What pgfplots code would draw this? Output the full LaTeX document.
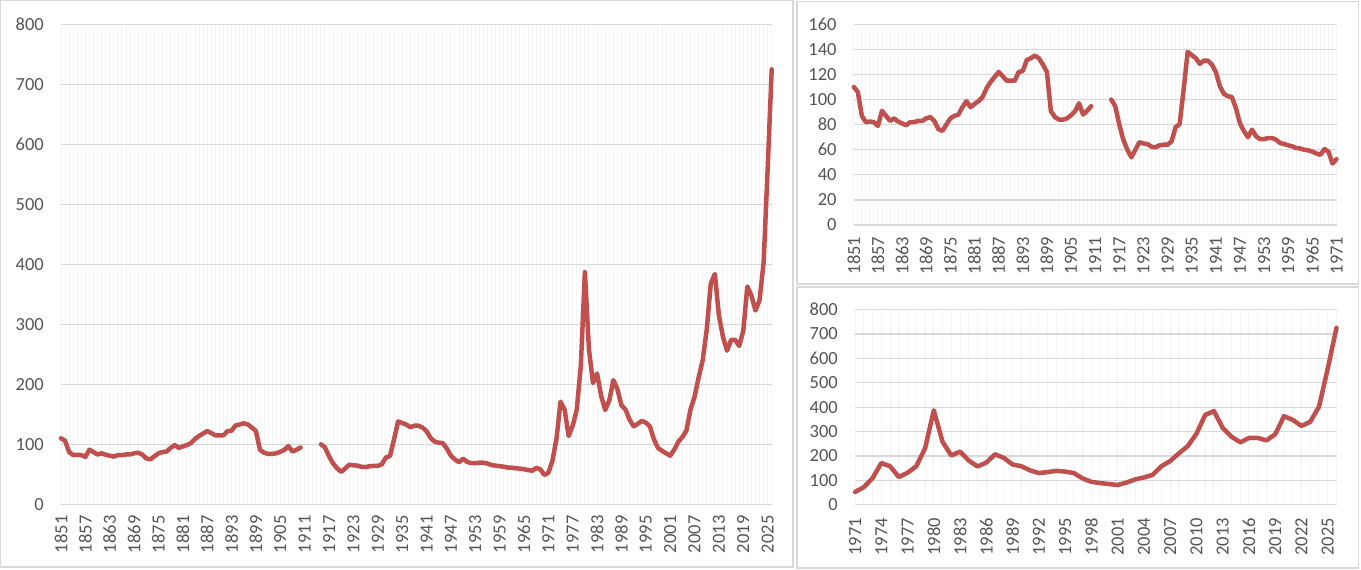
\documentclass[border=0pt]{standalone}
\usepackage{fontspec}
\setmainfont{Carlito}
\usepackage{pgfplots}
\usepackage{pgfplotstable}
\pgfplotsset{compat=1.18}
\definecolor{linec}{RGB}{192,80,77}
\definecolor{gridc}{RGB}{217,217,217}
\definecolor{vgrid}{RGB}{245,245,245}
\definecolor{textc}{RGB}{85,85,85}
\pgfplotstableread{
year val
1851 110
1852 106
1853 87
1854 82
1855 82.5
1856 82
1857 79
1858 91
1859 87
1860 83
1861 85
1862 82.5
1863 81
1864 79.5
1865 82
1866 82
1867 83
1868 83
1869 85
1870 86
1871 83
1872 76.5
1873 75
1874 80
1875 85
1876 87
1877 88
1878 94
1879 98.7
1880 94
1881 96.5
1882 98.7
1883 102
1884 109
1885 114
1886 118
1887 122
1888 118.7
1889 115
1890 115
1891 115
1892 122
1893 122.7
1894 131.5
1895 133
1896 135
1897 133
1898 128
1899 122
1900 90.7
1901 86
1902 84
1903 84
1904 85
1905 87.5
1906 90.7
1907 97
1908 88
1909 91
1910 94.7
1911 nan
1912 nan
1913 nan
1914 nan
1915 100
1916 94.7
1917 80
1918 68
1919 60
1920 54
1921 60
1922 66
1923 65
1924 64.5
1925 62.4
1926 62
1927 63.5
1928 64
1929 64
1930 66.7
1931 78
1932 80.5
1933 108
1934 138
1935 135.5
1936 133
1937 128.5
1938 131
1939 131
1940 128
1941 122
1942 110.7
1943 104.5
1944 102.7
1945 102
1946 93
1947 81
1948 74.7
1949 70
1950 76
1951 70.7
1952 68.5
1953 68.5
1954 69.3
1955 69.3
1956 68
1957 65.3
1958 64.5
1959 63.5
1960 62.7
1961 61.3
1962 61
1963 60
1964 59.5
1965 58.5
1966 57
1967 56
1968 60.5
1969 58.5
1970 49
1971 52.5
1972 72
1973 109
1974 171
1975 158
1976 114
1977 131
1978 158
1979 231
1980 387
1981 258
1982 202
1983 218
1984 181
1985 157
1986 173
1987 207
1988 192
1989 165
1990 158
1991 141
1992 130
1993 134
1994 139
1995 136
1996 130
1997 108
1998 94
1999 89
2000 85
2001 81
2002 91
2003 104
2004 112
2005 123
2006 158
2007 179
2008 211
2009 240
2010 291
2011 368
2012 384
2013 315
2014 279
2015 256
2016 274
2017 274
2018 264
2019 289
2020 363
2021 348
2022 323
2023 340
2024 402
2025 558
2026 725
}\data

\begin{document}
\begin{tikzpicture}[x=1pt,y=1pt]
\useasboundingbox (0pt,0pt) rectangle (1361pt,570pt);
\fill[white] (0pt,0pt) rectangle (1361pt,570pt);
\pgfplotsset{
  panel/.style={
    scale only axis, clip=false,
    axis line style={draw=none}, tick style={draw=none},
    ymajorgrids, xminorgrids,
    major grid style={draw=gridc, line width=1.3pt},
    minor grid style={draw=vgrid, line width=0.9pt},
    ymin=0, unbounded coords=jump,
    tick label style={font=\fontsize{18.5}{20}\selectfont, text=textc},
    /pgf/number format/assume math mode=true,
    /pgf/number format/1000 sep={},
    yticklabel style={anchor=east, inner sep=0pt, xshift=-17pt},
  },
  redline/.style={draw=linec, line width=4.5pt, line join=round, line cap=round, no markers},
}
% left panel
\begin{axis}[panel, at={(61pt,65.7pt)}, anchor=south west,
  width=710.7pt, height=480pt,
  xmin=1851, xmax=2026, ymax=800,
  ytick={0,100,...,800},
  xtick={1851,1857,...,2025},
  minor xtick={1851,1852,...,2026},
  xticklabel style={yshift=-11pt, rotate=90, anchor=east, inner sep=0pt}]
\addplot[redline] table[x=year,y=val] {\data};
\end{axis}
% top right panel
\begin{axis}[panel, at={(853.8pt,345pt)}, anchor=south west,
  width=482.7pt, height=200.7pt,
  xmin=1851, xmax=1971, ymax=160,
  ytick={0,20,...,160},
  xtick={1851,1857,...,1971},
  minor xtick={1851,1852,...,1971},
  xticklabel style={yshift=-11.5pt, rotate=90, anchor=east, inner sep=0pt}]
\addplot[redline, restrict x to domain=1851:1971] table[x=year,y=val] {\data};
\end{axis}
% bottom right panel
\begin{axis}[panel, at={(855pt,65.2pt)}, anchor=south west,
  width=481.5pt, height=195.3pt,
  xmin=1971, xmax=2026, ymax=800,
  ytick={0,100,...,800},
  xtick={1971,1974,...,2025},
  minor xtick={1971,1972,...,2026},
  xticklabel style={yshift=-13pt, rotate=90, anchor=east, inner sep=0pt}]
\addplot[redline, restrict x to domain=1971:2026] table[x=year,y=val] {\data};
\end{axis}
% frames
\draw[gridc, line width=1.3pt] (0.7pt,3pt) rectangle (793pt,569.3pt);
\draw[gridc, line width=1.3pt] (797pt,286pt) rectangle (1358.5pt,568.5pt);
\draw[gridc, line width=1.3pt] (797pt,2pt) rectangle (1358.5pt,283pt);
\end{tikzpicture}
\end{document}
